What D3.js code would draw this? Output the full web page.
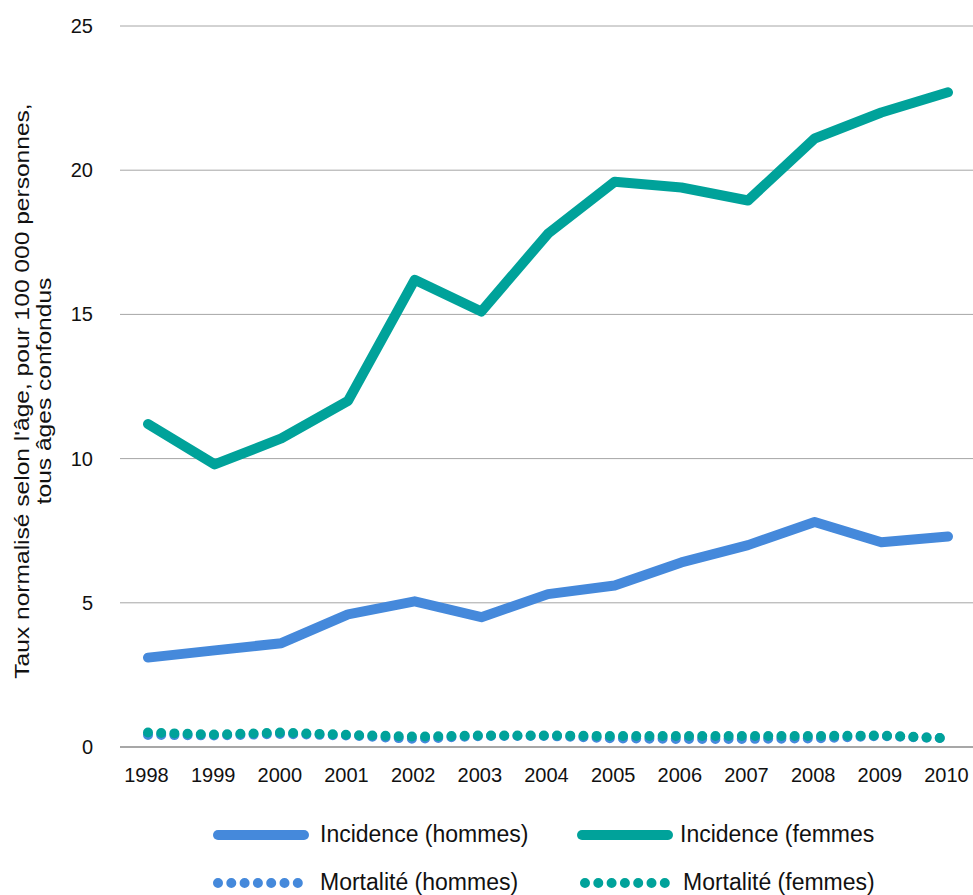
<!DOCTYPE html>
<html>
<head>
<meta charset="utf-8">
<script src="https://cdn.jsdelivr.net/npm/d3@7"></script>
<style>
  body { margin: 0; background: #fff; }
  svg { display: block; font-family: "Liberation Sans", Arial, Helvetica, sans-serif; }
</style>
</head>
<body>
<svg id="chart" width="973" height="895"></svg>
<script>
// Years on the x axis
const years = [1998, 1999, 2000, 2001, 2002, 2003, 2004, 2005, 2006, 2007, 2008, 2009, 2010];

// Age-standardised rates per 100 000
const incidenceHommes = [3.1, 3.35, 3.6, 4.6, 5.05, 4.5, 5.3, 5.6, 6.4, 7.0, 7.8, 7.1, 7.3];
const incidenceFemmes = [11.2, 9.8, 10.7, 12.0, 16.2, 15.1, 17.8, 19.6, 19.4, 18.95, 21.1, 22.0, 22.7];
const mortaliteHommes = [0.42, 0.40, 0.45, 0.40, 0.28, 0.38, 0.38, 0.30, 0.28, 0.28, 0.30, 0.38, 0.30];
const mortaliteFemmes = [0.50, 0.43, 0.50, 0.42, 0.36, 0.40, 0.40, 0.38, 0.38, 0.38, 0.38, 0.40, 0.30];

const yTicks = [0, 5, 10, 15, 20, 25];

const blue = "#4589DB";
const teal = "#00A29A";
const textColor = "#111";

const svg = d3.select("#chart");
const W = 973;
const plotLeft = 120;

const x = d3.scalePoint().domain(years).range([148, 948]);
const y = d3.scaleLinear().domain([0, 25]).range([747, 26]);

// Horizontal gridlines
svg.append("g")
  .selectAll("line")
  .data(yTicks)
  .join("line")
  .attr("x1", plotLeft)
  .attr("x2", W)
  .attr("y1", d => y(d))
  .attr("y2", d => y(d))
  .attr("stroke", d => d === 0 ? "#8a8a8a" : "#a6a6a6")
  .attr("stroke-width", d => d === 0 ? 1.5 : 1);

// Y axis tick labels
const yAxis = d3.axisLeft(y).tickValues(yTicks).tickSize(0).tickPadding(0);
svg.append("g")
  .attr("transform", "translate(93,0)")
  .call(yAxis)
  .call(g => g.select(".domain").remove())
  .call(g => g.selectAll("text")
    .attr("font-size", 20)
    .attr("font-family", "Liberation Sans, Arial, sans-serif")
    .attr("fill", textColor));

// X axis tick labels
const xAxis = d3.axisBottom(x).tickSize(0).tickPadding(0).tickFormat(d3.format("d"));
svg.append("g")
  .attr("transform", "translate(-2,768)")
  .call(xAxis)
  .call(g => g.select(".domain").remove())
  .call(g => g.selectAll("text")
    .attr("font-size", 20)
    .attr("font-family", "Liberation Sans, Arial, sans-serif")
    .attr("fill", textColor));

// Y axis title (two lines, rotated, slightly widened glyphs)
const title = svg.append("text")
  .attr("transform", "translate(0,391) rotate(-90) scale(1.17,1)")
  .attr("text-anchor", "middle")
  .attr("font-size", 21)
  .attr("fill", textColor);
title.append("tspan").attr("x", 0).attr("y", 29).text("Taux normalisé selon l'âge, pour 100 000 personnes,");
title.append("tspan").attr("x", 0).attr("y", 51).text("tous âges confondus");

const line = d3.line().x((d, i) => x(years[i])).y(d => y(d));

function drawSeries(values, color, dotted) {
  const p = svg.append("path")
    .datum(values)
    .attr("d", line)
    .attr("fill", "none")
    .attr("stroke", color)
    .attr("stroke-width", 10)
    .attr("stroke-linejoin", "round")
    .attr("stroke-linecap", "round");
  if (dotted) p.attr("stroke-dasharray", "0,13.2");
}

drawSeries(mortaliteHommes, blue, true);
drawSeries(mortaliteFemmes, teal, true);
drawSeries(incidenceHommes, blue, false);
drawSeries(incidenceFemmes, teal, false);

// Legend
const legendItems = [
  { label: "Incidence (hommes)", color: blue, dotted: false, x: 218, y: 835 },
  { label: "Incidence (femmes", color: teal, dotted: false, x: 582, y: 835 },
  { label: "Mortalité (hommes)", color: blue, dotted: true, x: 218, y: 883 },
  { label: "Mortalité (femmes)", color: teal, dotted: true, x: 585, y: 883 }
];

const lg = svg.append("g").selectAll("g").data(legendItems).join("g");
lg.append("line")
  .attr("x1", d => d.x)
  .attr("x2", d => d.dotted ? d.x + 80 : d.x + 86)
  .attr("y1", d => d.y)
  .attr("y2", d => d.y)
  .attr("stroke", d => d.color)
  .attr("stroke-width", 10)
  .attr("stroke-linecap", "round")
  .attr("stroke-dasharray", d => d.dotted ? "0,13.3" : null);
lg.append("text")
  .attr("x", d => d.x + (d.color === blue ? 102 : 98))
  .attr("y", d => d.y + 7)
  .attr("font-size", 23)
  .attr("fill", textColor)
  .text(d => d.label);
</script>
</body>
</html>
